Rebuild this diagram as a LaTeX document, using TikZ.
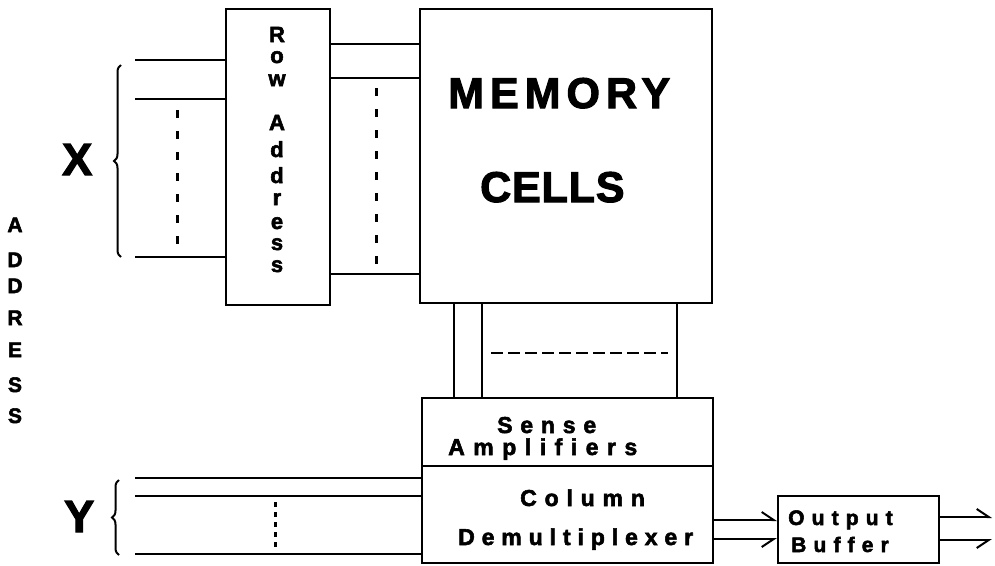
\documentclass[tikz,border=0pt]{standalone}
\usepackage{fontspec}
\setmainfont{Liberation Sans}[BoldFeatures={FakeBold=2.5}]
\newfontfamily\spfont{Liberation Sans}[LetterSpace=34, BoldFeatures={FakeBold=2.5}]
\newfontfamily\memfont{Liberation Sans}[LetterSpace=14, BoldFeatures={FakeBold=2.5}]
\newfontfamily\celfont{Liberation Sans}[LetterSpace=2, BoldFeatures={FakeBold=2.5}]
\usetikzlibrary{decorations.pathreplacing,arrows.meta}
\tikzset{
  blk/.style={draw, line width=2pt, rectangle, inner sep=0pt},
  wire/.style={line width=2pt},
  dwire/.style={line width=3pt, dash pattern=on 8pt off 13pt},
  hdash/.style={line width=2.2pt, dash pattern=on 12pt off 5pt},
  sdash/.style={line width=3pt, dash pattern=on 5pt off 5pt},
  brc/.style={line width=2pt, decorate, decoration={brace, amplitude=7pt}},
  lbl/.style={inner sep=0pt, anchor=base west},
  ltr/.style={inner sep=0pt, anchor=base, font=\fontsize{22}{22}\selectfont\bfseries},
  adr/.style={inner sep=0pt, anchor=base, font=\fontsize{21}{21}\selectfont\bfseries},
  sp/.style={lbl, font=\fontsize{23}{23}\spfont\bfseries},
  arrup/.style={wire, -{Straight Barb[harpoon, length=12pt, width=16pt, line width=2pt]}},
  arrdn/.style={wire, -{Straight Barb[harpoon, swap, length=12pt, width=16pt, line width=2pt]}}
}
\begin{document}
\begin{tikzpicture}[x=1pt, y=-1pt]
\useasboundingbox (0,0) rectangle (995,565);
% boxes
\node[blk, minimum width=104pt, minimum height=296pt] (rowaddr) at (278,157) {};
\node[blk, minimum width=292pt, minimum height=294pt] (mem) at (566,156) {};
\node[blk, minimum width=291pt, minimum height=68pt] (sense) at (567.5,432) {};
\node[blk, minimum width=291pt, minimum height=97pt] (demux) at (567.5,514.5) {};
\node[blk, minimum width=161pt, minimum height=67pt] (outbuf) at (858.5,529.5) {};
% memory text
\node[lbl, font=\fontsize{43}{43}\memfont\bfseries] (memt1) at (448,108) {MEMORY};
\node[lbl, font=\fontsize{43}{43}\celfont\bfseries] (memt2) at (480,202) {CELLS};
% row address letters
\foreach \c/\y [count=\i] in {R/42, o/63, w/86, A/130, d/157, d/183, r/205, e/229, s/250, s/272}
  \node[ltr] (ra\i) at (277,\y) {\c};
% sense / demux / output text
\node[sp] (st1) at (497,433) {Sense};
\node[sp, font=\fontsize{23}{23}\spfont\bfseries\addfontfeatures{LetterSpace=37}] (st2) at (448,455) {Amplifiers};
\node[sp] (dt1) at (520,506) {Column};
\node[sp, font=\fontsize{23}{23}\spfont\bfseries\addfontfeatures{LetterSpace=30}] (dt2) at (458,545) {Demultiplexer};
\node[sp, font=\fontsize{21}{21}\spfont\bfseries] (ot1) at (788,525) {Output};
\node[sp, font=\fontsize{21}{21}\spfont\bfseries] (ot2) at (791,552) {Buffer};
% X, Y, ADDRESS
\node[lbl, font=\fontsize{45}{45}\selectfont\bfseries] (xl) at (62,175) {X};
\node[lbl, font=\fontsize{45}{45}\selectfont\bfseries] (yl) at (64,532) {Y};
\foreach \c/\y [count=\i] in {A/232, D/267, D/293, R/325, E/357, S/392, S/423}
  \node[adr] (ad\i) at (15,\y) {\c};
% X inputs
\coordinate (xa) at (135,60);
\coordinate (xb) at (135,99);
\coordinate (xc) at (135,257);
\draw[wire] (xa) -- (xa -| rowaddr.west);
\draw[wire] (xb) -- (xb -| rowaddr.west);
\draw[wire] (xc) -- (xc -| rowaddr.west);
\coordinate (xd1) at (177,110);
\coordinate (xd2) at (177,247);
\draw[dwire] (xd1) -- (xd2);
\coordinate (xbr1) at (121,257);
\coordinate (xbr2) at (121,65);
\draw[brc] (xbr1) -- (xbr2);
% row address -> memory
\coordinate (ra) at (330,44);
\coordinate (rb) at (330,78);
\coordinate (rc) at (330,274);
\draw[wire] (rowaddr.east |- ra) -- (mem.west |- ra);
\draw[wire] (rowaddr.east |- rb) -- (mem.west |- rb);
\draw[wire] (rowaddr.east |- rc) -- (mem.west |- rc);
\coordinate (rd1) at (376,88);
\coordinate (rd2) at (376,265);
\draw[dwire] (rd1) -- (rd2);
% memory -> sense amplifiers
\coordinate (ca) at (454,350);
\coordinate (cb) at (482,350);
\coordinate (cc) at (677,350);
\draw[wire] (mem.south -| ca) -- (sense.north -| ca);
\draw[wire] (mem.south -| cb) -- (sense.north -| cb);
\draw[wire] (mem.south -| cc) -- (sense.north -| cc);
\coordinate (cd1) at (491,353);
\coordinate (cd2) at (668,353);
\draw[hdash] (cd1) -- (cd2);
% Y inputs
\coordinate (ya) at (135,478);
\coordinate (yb) at (135,496);
\coordinate (yc) at (135,554);
\draw[wire] (ya) -- (ya -| demux.west);
\draw[wire] (yb) -- (yb -| demux.west);
\draw[wire] (yc) -- (yc -| demux.west);
\coordinate (yd1) at (275,502);
\coordinate (yd2) at (275,547);
\draw[sdash] (yd1) -- (yd2);
\coordinate (ybr1) at (119,555);
\coordinate (ybr2) at (119,480);
\draw[brc] (ybr1) -- (ybr2);
% demux -> output buffer -> out
\coordinate (oa) at (713,520);
\coordinate (ob) at (713,539);
\draw[arrup] (demux.east |- oa) -- (outbuf.west |- oa);
\draw[arrdn] (demux.east |- ob) -- (outbuf.west |- ob);
\coordinate (qa) at (992,517);
\coordinate (qb) at (992,540);
\draw[arrup] (outbuf.east |- qa) -- (qa);
\draw[arrdn] (outbuf.east |- qb) -- (qb);
\end{tikzpicture}
\end{document}
